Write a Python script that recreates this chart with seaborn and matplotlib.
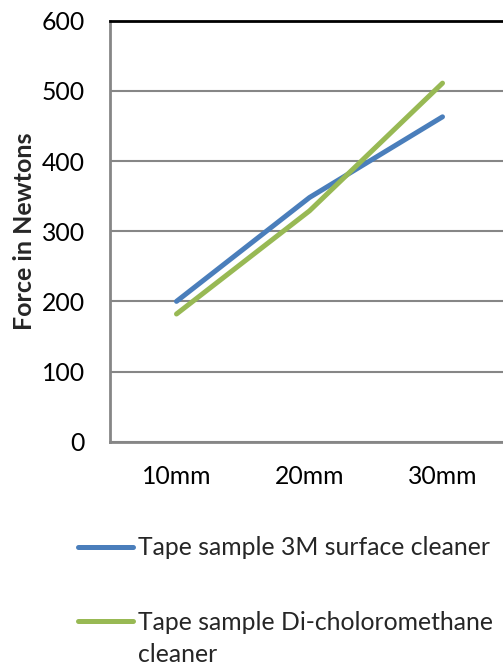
import matplotlib
matplotlib.use('Agg')
import matplotlib.pyplot as plt
import pandas as pd
import seaborn as sns

# values
lengths = ['10mm', '20mm', '30mm']
force_3m = [200, 348, 463]
force_dcm = [182, 329, 511]
series_names = ['Tape sample 3M surface cleaner',
                'Tape sample Di-choloromethane cleaner']
yticks = [0, 100, 200, 300, 400, 500, 600]
colors = ['#4a7ebb', '#98b954']

df = pd.DataFrame({
    'length': lengths * 2,
    'force': force_3m + force_dcm,
    'series': [series_names[0]] * 3 + [series_names[1]] * 3,
})

sns.set_style('white')
plt.rcParams['font.family'] = ['Lato', 'DejaVu Sans']
FS = 17.8

W, H = 503, 666
fig = plt.figure(figsize=(W / 100, H / 100), dpi=100)
# plot area runs past the right edge, as in the reference (cropped)
ax = fig.add_axes([110 / W, 1 - 441.7 / H, 399 / W, 421 / H])

sns.lineplot(data=df, x='length', y='force', hue='series', sort=False,
             palette=colors, linewidth=3.6, ax=ax, legend=False)

ax.set_xlim(-0.5, 2.5)
ax.set_ylim(0, 600)
ax.set_yticks(yticks)
ax.yaxis.grid(True, color='#868686', linewidth=1.5)
ax.set_axisbelow(True)
ax.tick_params(axis='both', length=0, labelsize=FS, colors='black')
ax.tick_params(axis='y', pad=18)
ax.tick_params(axis='x', pad=17)
ax.set_xlabel('')
ax.set_ylabel('Force in Newtons', fontsize=18, fontweight='bold', labelpad=4)

ax.spines['left'].set_color('#868686')
ax.spines['left'].set_linewidth(2)
ax.spines['bottom'].set_color('#868686')
ax.spines['bottom'].set_linewidth(2)
ax.spines['top'].set_color('black')
ax.spines['top'].set_linewidth(2)
ax.spines['right'].set_visible(False)

# legend below the plot; second label wraps onto a line of its own
handles = [plt.Line2D([], [], color=c, linewidth=3.6) for c in colors]
first_lines = [series_names[0], series_names[1].rsplit(' ', 1)[0]]
leg = fig.legend(handles, first_lines, loc='upper left',
                 bbox_to_anchor=(66 / W, 1 - 524 / H), frameon=False,
                 fontsize=FS, handlelength=2.2, handletextpad=0.2,
                 labelspacing=2.08, borderpad=0, alignment='left')
fig.text(138 / W, 1 - 654 / H, series_names[1].rsplit(' ', 1)[1],
         fontsize=FS, va='center', ha='left')

fig.savefig('out.png', dpi=100)
